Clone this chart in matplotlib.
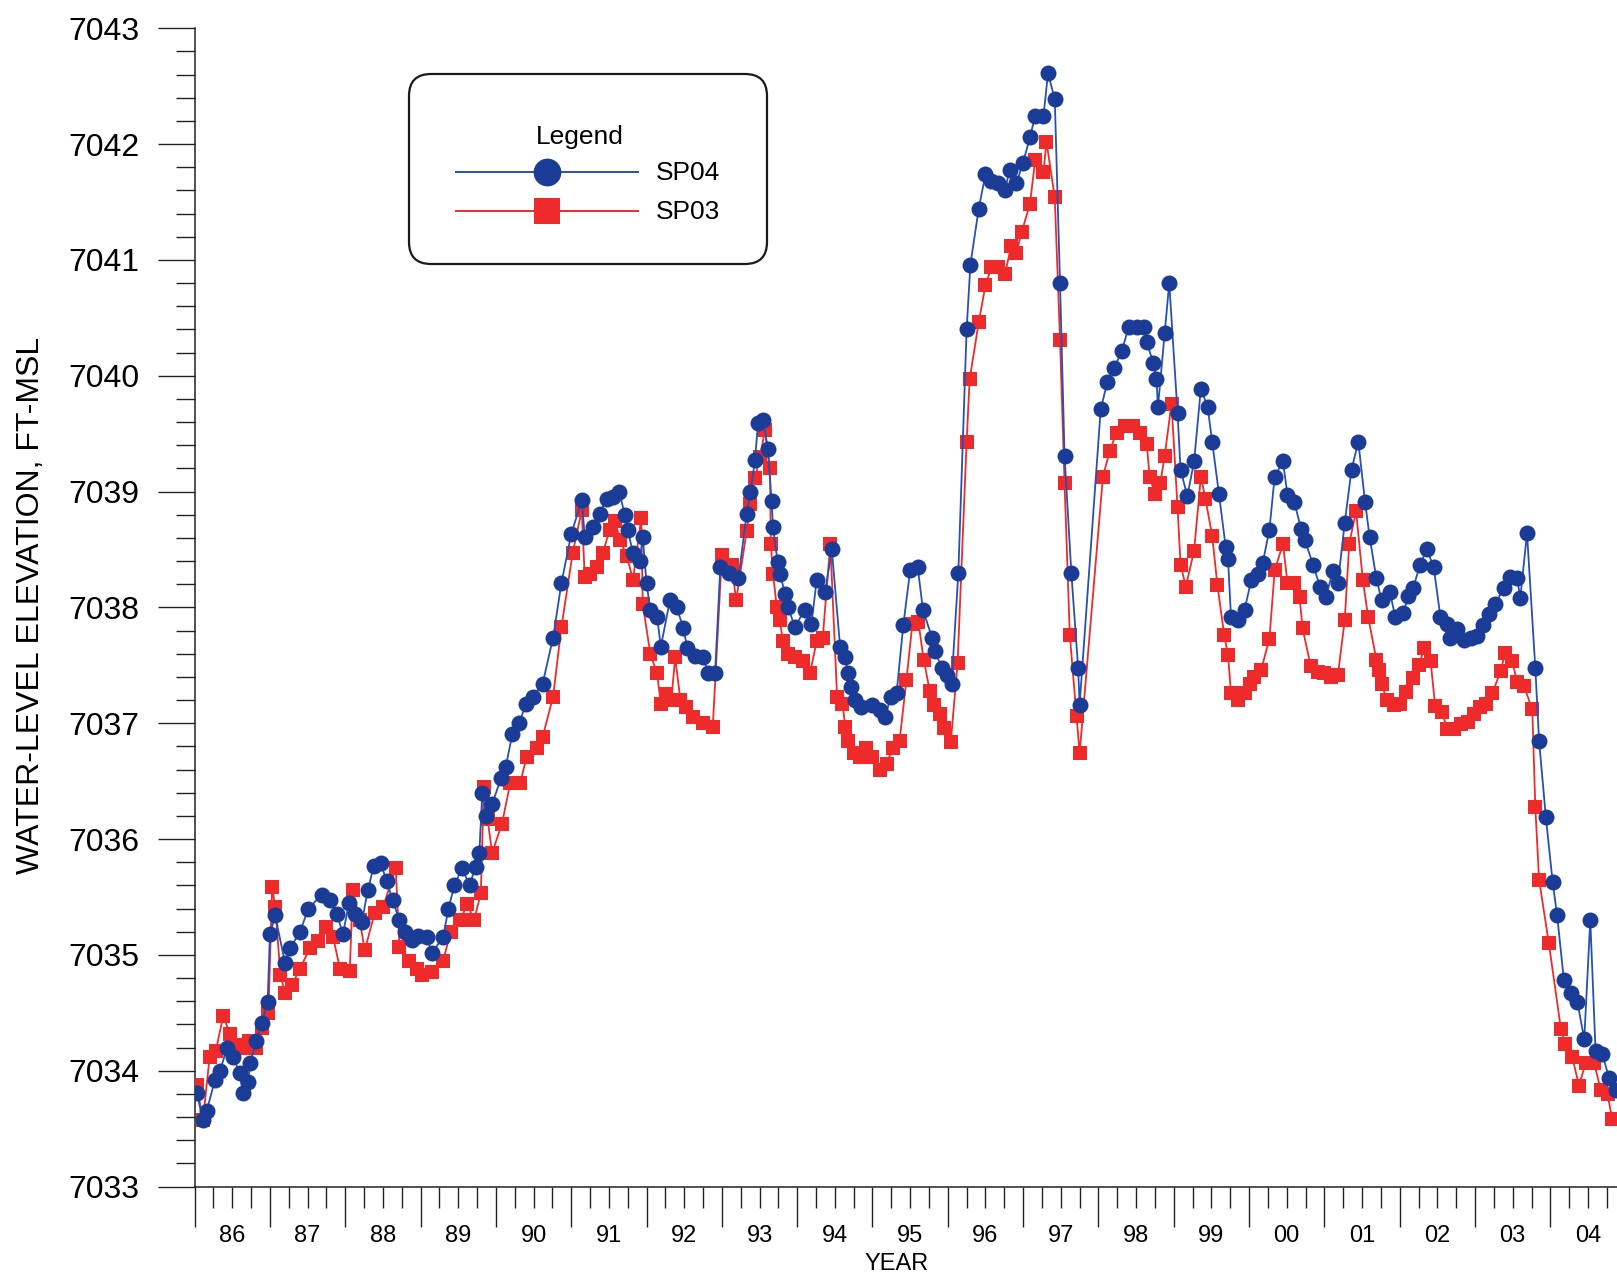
import matplotlib
matplotlib.use("Agg")
import matplotlib.pyplot as plt
from matplotlib.patches import FancyBboxPatch
from matplotlib.ticker import FixedLocator, FuncFormatter, MultipleLocator

plt.rcParams['font.family'] = ['Liberation Sans', 'DejaVu Sans']

# water-level records, decimal year / elevation (ft above MSL)
sp04_year = [
    1986.03, 1986.11, 1986.16, 1986.27, 1986.34, 1986.43, 1986.51, 1986.60, 1986.64, 1986.71,
    1986.74, 1986.82, 1986.89, 1986.97, 1987.00, 1987.07, 1987.20, 1987.27, 1987.40, 1987.51,
    1987.69, 1987.80, 1987.89, 1987.97, 1988.05, 1988.13, 1988.22, 1988.30, 1988.38, 1988.47,
    1988.55, 1988.63, 1988.72, 1988.80, 1988.88, 1988.97, 1989.08, 1989.15, 1989.30, 1989.37,
    1989.45, 1989.55, 1989.65, 1989.73, 1989.78, 1989.82, 1989.87, 1989.95, 1990.07, 1990.13,
    1990.22, 1990.31, 1990.40, 1990.49, 1990.62, 1990.76, 1990.87, 1991.00, 1991.14, 1991.18,
    1991.29, 1991.38, 1991.47, 1991.55, 1991.64, 1991.71, 1991.75, 1991.82, 1991.91, 1991.95,
    1992.00, 1992.05, 1992.14, 1992.19, 1992.31, 1992.40, 1992.49, 1992.54, 1992.64, 1992.75,
    1992.82, 1992.91, 1992.98, 1993.09, 1993.22, 1993.33, 1993.38, 1993.44, 1993.48, 1993.55,
    1993.61, 1993.66, 1993.68, 1993.74, 1993.77, 1993.84, 1993.88, 1993.97, 1994.10, 1994.19,
    1994.26, 1994.37, 1994.46, 1994.57, 1994.64, 1994.67, 1994.72, 1994.77, 1994.85, 1994.99,
    1995.10, 1995.17, 1995.24, 1995.32, 1995.41, 1995.50, 1995.60, 1995.67, 1995.79, 1995.83,
    1995.92, 1995.99, 1996.05, 1996.14, 1996.25, 1996.30, 1996.41, 1996.50, 1996.58, 1996.67,
    1996.76, 1996.82, 1996.91, 1997.00, 1997.09, 1997.16, 1997.27, 1997.33, 1997.42, 1997.49,
    1997.55, 1997.64, 1997.73, 1997.75, 1998.03, 1998.12, 1998.21, 1998.31, 1998.40, 1998.51,
    1998.60, 1998.64, 1998.73, 1998.77, 1998.79, 1998.88, 1998.94, 1999.05, 1999.09, 1999.18,
    1999.27, 1999.36, 1999.45, 1999.51, 1999.60, 1999.69, 1999.72, 1999.76, 1999.85, 1999.94,
    2000.03, 2000.12, 2000.18, 2000.27, 2000.34, 2000.45, 2000.51, 2000.60, 2000.69, 2000.74,
    2000.85, 2000.94, 2001.02, 2001.11, 2001.18, 2001.27, 2001.36, 2001.45, 2001.54, 2001.60,
    2001.69, 2001.76, 2001.87, 2001.94, 2002.05, 2002.11, 2002.18, 2002.27, 2002.36, 2002.45,
    2002.54, 2002.63, 2002.67, 2002.76, 2002.85, 2002.94, 2003.02, 2003.11, 2003.18, 2003.27,
    2003.38, 2003.47, 2003.56, 2003.60, 2003.69, 2003.80, 2003.85, 2003.94, 2004.03, 2004.09,
    2004.18, 2004.27, 2004.36, 2004.45, 2004.53, 2004.60, 2004.69, 2004.78, 2004.87,
]
sp04_elev = [
    7033.81, 7033.57, 7033.65, 7033.92, 7034.00, 7034.20, 7034.12, 7033.98, 7033.81, 7033.90,
    7034.07, 7034.26, 7034.41, 7034.59, 7035.18, 7035.34, 7034.93, 7035.06, 7035.20, 7035.40,
    7035.52, 7035.47, 7035.35, 7035.18, 7035.45, 7035.35, 7035.28, 7035.56, 7035.77, 7035.79,
    7035.64, 7035.47, 7035.30, 7035.20, 7035.13, 7035.16, 7035.15, 7035.02, 7035.15, 7035.40,
    7035.60, 7035.75, 7035.60, 7035.76, 7035.88, 7036.40, 7036.20, 7036.30, 7036.53, 7036.62,
    7036.91, 7037.00, 7037.17, 7037.23, 7037.34, 7037.74, 7038.21, 7038.63, 7038.93, 7038.61,
    7038.69, 7038.81, 7038.94, 7038.95, 7039.00, 7038.80, 7038.67, 7038.47, 7038.40, 7038.61,
    7038.21, 7037.98, 7037.92, 7037.66, 7038.06, 7038.00, 7037.82, 7037.65, 7037.58, 7037.57,
    7037.43, 7037.43, 7038.35, 7038.30, 7038.25, 7038.81, 7039.00, 7039.27, 7039.59, 7039.62,
    7039.37, 7038.92, 7038.69, 7038.39, 7038.29, 7038.12, 7038.00, 7037.83, 7037.98, 7037.86,
    7038.24, 7038.13, 7038.50, 7037.66, 7037.57, 7037.43, 7037.31, 7037.20, 7037.14, 7037.16,
    7037.11, 7037.05, 7037.23, 7037.26, 7037.85, 7038.32, 7038.35, 7037.98, 7037.74, 7037.62,
    7037.48, 7037.42, 7037.34, 7038.30, 7040.40, 7040.96, 7041.44, 7041.74, 7041.68, 7041.66,
    7041.60, 7041.78, 7041.66, 7041.84, 7042.06, 7042.24, 7042.24, 7042.61, 7042.39, 7040.80,
    7039.31, 7038.30, 7037.48, 7037.16, 7039.71, 7039.95, 7040.07, 7040.21, 7040.42, 7040.42,
    7040.42, 7040.29, 7040.11, 7039.97, 7039.73, 7040.37, 7040.80, 7039.68, 7039.19, 7038.96,
    7039.26, 7039.89, 7039.73, 7039.43, 7038.98, 7038.52, 7038.42, 7037.92, 7037.89, 7037.98,
    7038.24, 7038.29, 7038.38, 7038.67, 7039.13, 7039.26, 7038.97, 7038.91, 7038.68, 7038.58,
    7038.37, 7038.18, 7038.09, 7038.31, 7038.21, 7038.73, 7039.19, 7039.43, 7038.91, 7038.61,
    7038.25, 7038.06, 7038.13, 7037.92, 7037.95, 7038.10, 7038.17, 7038.37, 7038.50, 7038.35,
    7037.92, 7037.86, 7037.74, 7037.81, 7037.72, 7037.74, 7037.75, 7037.85, 7037.94, 7038.03,
    7038.17, 7038.26, 7038.25, 7038.08, 7038.64, 7037.48, 7036.85, 7036.19, 7035.63, 7035.34,
    7034.78, 7034.67, 7034.59, 7034.27, 7035.30, 7034.17, 7034.14, 7033.94, 7033.83,
]

sp03_year = [
    1986.03, 1986.11, 1986.20, 1986.28, 1986.38, 1986.47, 1986.55, 1986.64, 1986.72, 1986.82,
    1986.90, 1986.98, 1987.03, 1987.07, 1987.14, 1987.20, 1987.29, 1987.40, 1987.53, 1987.64,
    1987.75, 1987.84, 1987.93, 1988.06, 1988.10, 1988.19, 1988.26, 1988.39, 1988.50, 1988.67,
    1988.72, 1988.85, 1988.95, 1989.02, 1989.15, 1989.30, 1989.40, 1989.53, 1989.62, 1989.71,
    1989.80, 1989.84, 1989.89, 1989.95, 1990.08, 1990.19, 1990.32, 1990.41, 1990.54, 1990.62,
    1990.76, 1990.87, 1991.02, 1991.14, 1991.18, 1991.25, 1991.34, 1991.42, 1991.51, 1991.58,
    1991.65, 1991.74, 1991.82, 1991.93, 1991.95, 1992.05, 1992.14, 1992.19, 1992.26, 1992.33,
    1992.38, 1992.45, 1992.52, 1992.62, 1992.75, 1992.88, 1993.00, 1993.13, 1993.19, 1993.33,
    1993.38, 1993.44, 1993.51, 1993.57, 1993.64, 1993.65, 1993.68, 1993.73, 1993.77, 1993.81,
    1993.88, 1993.97, 1994.08, 1994.17, 1994.26, 1994.34, 1994.44, 1994.53, 1994.60, 1994.64,
    1994.68, 1994.75, 1994.83, 1994.92, 1995.00, 1995.10, 1995.19, 1995.27, 1995.36, 1995.45,
    1995.53, 1995.61, 1995.68, 1995.76, 1995.82, 1995.89, 1995.95, 1996.04, 1996.13, 1996.25,
    1996.29, 1996.41, 1996.50, 1996.58, 1996.67, 1996.76, 1996.84, 1996.91, 1996.98, 1997.09,
    1997.16, 1997.27, 1997.31, 1997.42, 1997.49, 1997.55, 1997.62, 1997.71, 1997.75, 1998.06,
    1998.15, 1998.24, 1998.35, 1998.46, 1998.55, 1998.64, 1998.68, 1998.75, 1998.82, 1998.88,
    1998.97, 1999.05, 1999.09, 1999.16, 1999.27, 1999.36, 1999.42, 1999.51, 1999.58, 1999.67,
    1999.72, 1999.76, 1999.85, 1999.94, 2000.01, 2000.07, 2000.16, 2000.27, 2000.34, 2000.45,
    2000.51, 2000.60, 2000.67, 2000.71, 2000.82, 2000.91, 2001.00, 2001.09, 2001.18, 2001.27,
    2001.33, 2001.42, 2001.51, 2001.58, 2001.69, 2001.73, 2001.76, 2001.83, 2001.92, 2002.01,
    2002.09, 2002.18, 2002.26, 2002.32, 2002.41, 2002.47, 2002.56, 2002.63, 2002.72, 2002.81,
    2002.90, 2002.98, 2003.07, 2003.14, 2003.23, 2003.34, 2003.40, 2003.49, 2003.56, 2003.65,
    2003.76, 2003.80, 2003.85, 2003.98, 2004.14, 2004.20, 2004.29, 2004.38, 2004.47, 2004.58,
    2004.67, 2004.76, 2004.82,
]
sp03_elev = [
    7033.88, 7033.57, 7034.12, 7034.17, 7034.47, 7034.32, 7034.22, 7034.20, 7034.26, 7034.20,
    7034.37, 7034.50, 7035.59, 7035.41, 7034.83, 7034.67, 7034.74, 7034.88, 7035.06, 7035.12,
    7035.24, 7035.15, 7034.88, 7034.86, 7035.56, 7035.30, 7035.04, 7035.36, 7035.41, 7035.75,
    7035.07, 7034.95, 7034.88, 7034.83, 7034.85, 7034.95, 7035.20, 7035.30, 7035.44, 7035.30,
    7035.53, 7036.45, 7036.17, 7035.88, 7036.13, 7036.48, 7036.48, 7036.71, 7036.79, 7036.88,
    7037.23, 7037.83, 7038.47, 7038.84, 7038.26, 7038.29, 7038.35, 7038.47, 7038.67, 7038.75,
    7038.58, 7038.44, 7038.24, 7038.77, 7038.03, 7037.60, 7037.43, 7037.17, 7037.25, 7037.20,
    7037.57, 7037.20, 7037.14, 7037.05, 7037.00, 7036.97, 7038.45, 7038.37, 7038.06, 7038.66,
    7038.89, 7039.12, 7039.30, 7039.53, 7039.20, 7038.55, 7038.29, 7038.00, 7037.89, 7037.71,
    7037.60, 7037.57, 7037.54, 7037.43, 7037.71, 7037.74, 7038.55, 7037.23, 7037.17, 7036.97,
    7036.85, 7036.74, 7036.71, 7036.79, 7036.71, 7036.60, 7036.65, 7036.79, 7036.85, 7037.37,
    7037.86, 7037.87, 7037.55, 7037.28, 7037.16, 7037.08, 7036.96, 7036.84, 7037.52, 7039.43,
    7039.97, 7040.46, 7040.78, 7040.94, 7040.94, 7040.88, 7041.12, 7041.06, 7041.24, 7041.48,
    7041.86, 7041.76, 7042.02, 7041.54, 7040.31, 7039.07, 7037.76, 7037.06, 7036.74, 7039.13,
    7039.35, 7039.51, 7039.57, 7039.57, 7039.51, 7039.41, 7039.13, 7038.98, 7039.07, 7039.31,
    7039.76, 7038.87, 7038.37, 7038.18, 7038.49, 7039.13, 7038.94, 7038.62, 7038.19, 7037.76,
    7037.59, 7037.26, 7037.20, 7037.26, 7037.34, 7037.40, 7037.46, 7037.73, 7038.32, 7038.55,
    7038.21, 7038.21, 7038.09, 7037.82, 7037.49, 7037.44, 7037.43, 7037.40, 7037.42, 7037.89,
    7038.55, 7038.83, 7038.24, 7037.92, 7037.55, 7037.46, 7037.34, 7037.20, 7037.16, 7037.17,
    7037.27, 7037.39, 7037.50, 7037.65, 7037.54, 7037.15, 7037.10, 7036.95, 7036.95, 7036.99,
    7037.01, 7037.08, 7037.14, 7037.17, 7037.26, 7037.45, 7037.61, 7037.54, 7037.36, 7037.32,
    7037.12, 7036.28, 7035.65, 7035.10, 7034.36, 7034.23, 7034.12, 7033.87, 7034.07, 7034.07,
    7033.83, 7033.80, 7033.58,
]

year_labels = ['86', '87', '88', '89', '90', '91', '92', '93', '94', '95',
               '96', '97', '98', '99', '00', '01', '02', '03', '04']
first_year = 1986

BLUE = '#1b3c96'
BLUE_LINE = '#2650b4'
RED = '#ee2a2a'

W, H = 1617, 1280
fig = plt.figure(figsize=(W / 100, H / 100), dpi=100)

# plot area in pixels: left edge at 1986.0, runs off the right edge of the page
left_px, top_px, bottom_px = 194.6, 28.3, 1186.5
px_per_year = 75.32
ax = fig.add_axes([left_px / W, 1 - bottom_px / H,
                   1 - left_px / W, (bottom_px - top_px) / H])

ax.plot(sp03_year, sp03_elev, color=RED, lw=1.3, marker='s', ms=10.5,
        mfc=RED, mec=RED, mew=0, zorder=3, clip_on=True)
ax.plot(sp04_year, sp04_elev, color=BLUE_LINE, lw=1.3, marker='o', ms=11.5,
        mfc=BLUE, mec=BLUE, mew=0, zorder=4, clip_on=True)

ax.set_xlim(first_year, first_year + (W - left_px) / px_per_year)
ax.set_ylim(7033, 7043)

for side in ('top', 'right'):
    ax.spines[side].set_visible(False)
for side in ('left', 'bottom'):
    ax.spines[side].set_linewidth(1.1)
    ax.spines[side].set_color('#222222')

# y axis: whole feet labelled, 0.2 ft minor ticks
ax.yaxis.set_major_locator(MultipleLocator(1))
ax.yaxis.set_minor_locator(MultipleLocator(0.2))
ax.yaxis.set_major_formatter(FuncFormatter(lambda v, p: f'{v:.0f}'))
ax.tick_params(axis='y', which='major', direction='out', length=26.6, width=1.0,
               color='#222222', labelsize=23, pad=13)
ax.tick_params(axis='y', which='minor', direction='out', length=13.7, width=1.0,
               color='#222222')

# x axis: long ticks at year boundaries, quarter ticks, label under mid-year
n_years = len(year_labels)
ax.xaxis.set_major_locator(FixedLocator([first_year + i for i in range(n_years + 1)]))
ax.xaxis.set_major_formatter(FuncFormatter(lambda v, p: ''))
quarters = [first_year + i + q for i in range(n_years) for q in (0.25, 0.5, 0.75)]
ax.xaxis.set_minor_locator(FixedLocator(quarters))


def year_label(v, pos):
    i = int(v - first_year)
    if abs(v - first_year - i - 0.5) < 1e-6 and 0 <= i < n_years:
        return year_labels[i]
    return ''


ax.xaxis.set_minor_formatter(FuncFormatter(year_label))
ax.tick_params(axis='x', which='major', direction='out', length=28.8, width=1.0,
               color='#222222')
ax.tick_params(axis='x', which='minor', direction='out', length=15, width=1.0,
               color='#222222', labelsize=17, pad=13)

fig.text(897 / W, 1 - 1264 / H, 'YEAR', ha='center', va='center', fontsize=17)
fig.text(31 / W, 1 - 605 / H, 'WATER-LEVEL ELEVATION, FT-MSL', rotation=90,
         ha='center', va='center', fontsize=23)

# legend panel, drawn in pixel units
lx0, lx1, ly0, ly1 = 398, 778, 63, 275
lax = fig.add_axes([lx0 / W, 1 - ly1 / H, (lx1 - lx0) / W, (ly1 - ly0) / H])
lax.set_xlim(lx0, lx1)
lax.set_ylim(ly1, ly0)
lax.axis('off')
lax.add_patch(FancyBboxPatch((409, 74), 358, 190,
                             boxstyle='round,pad=0,rounding_size=22',
                             fc='white', ec='#1a1a1a', lw=1.6))
lax.text(580, 137, 'Legend', ha='center', va='center', fontsize=19)
lax.plot([456, 547, 638], [172, 172, 172], color=BLUE_LINE, lw=1.4,
         marker='o', ms=20, mfc=BLUE, mec=BLUE, mew=0, markevery=[1])
lax.plot([456, 547, 638], [211, 211, 211], color=RED, lw=1.4,
         marker='s', ms=19, mfc=RED, mec=RED, mew=0, markevery=[1])
lax.text(656, 173, 'SP04', ha='left', va='center', fontsize=19)
lax.text(656, 212, 'SP03', ha='left', va='center', fontsize=19)

fig.savefig('out.png', dpi=100)
